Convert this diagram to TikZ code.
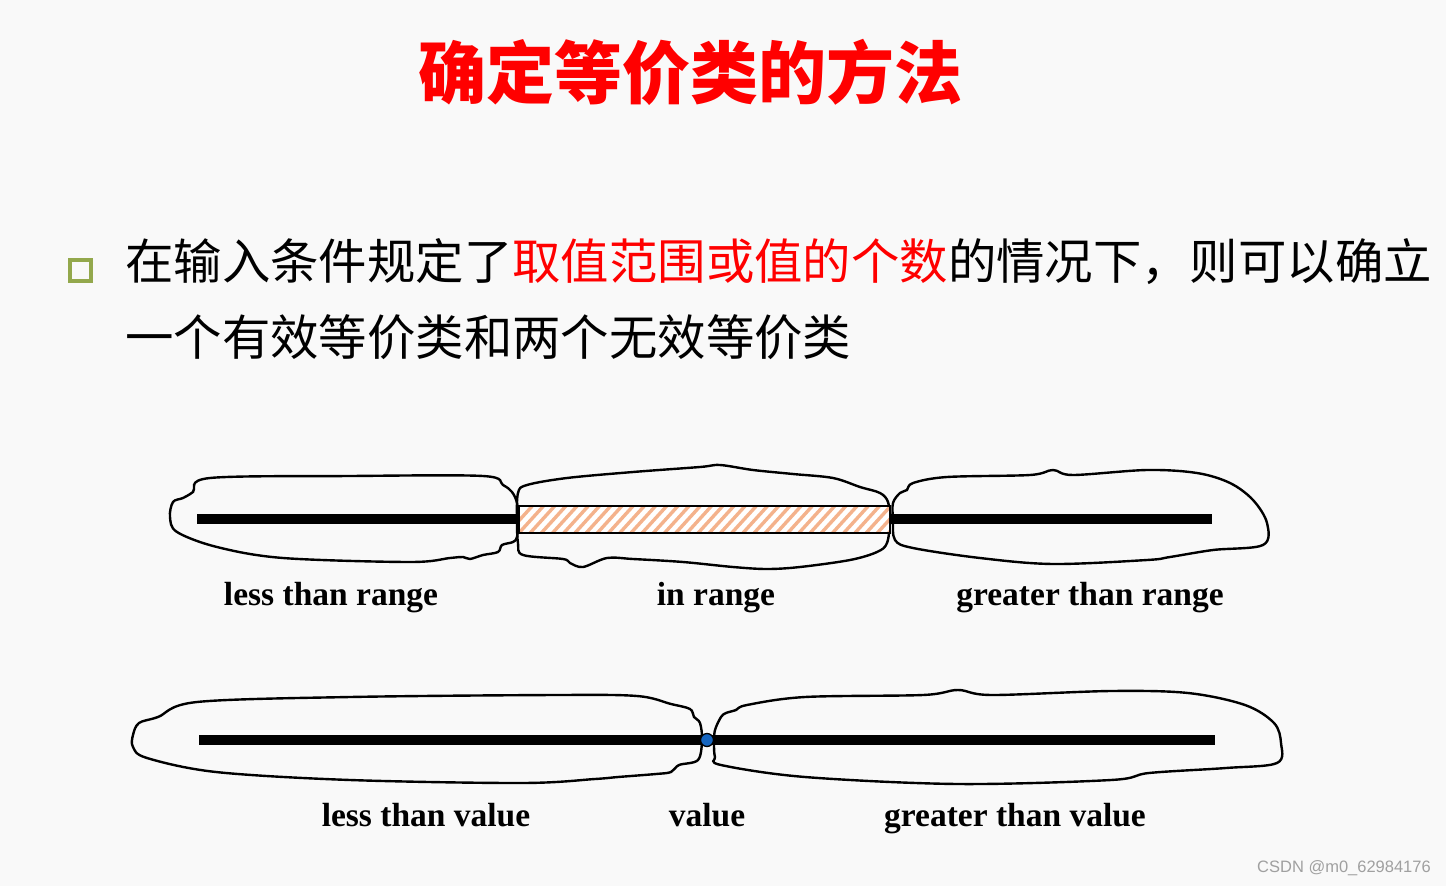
\documentclass[tikz,border=0pt]{standalone}
\usepackage{fontspec}
\setmainfont{Liberation Serif}
\newfontfamily\cjk{Noto Sans CJK SC}
\newfontfamily\wmfont{Liberation Sans}
\definecolor{bgc}{HTML}{F9F9F9}
\definecolor{tred}{HTML}{FF0000}
\definecolor{olivebox}{HTML}{93A84C}
\definecolor{hatchc}{HTML}{EE8040}
\definecolor{dotblue}{HTML}{1565C0}
\definecolor{wmgray}{HTML}{A0A0A0}
\tikzset{
  blob/.style={draw=black, line width=2.4pt, smooth cycle, tension=0.55},
  axis/.style={line width=9.5pt, black},
  lab/.style={font=\bfseries\fontsize{33.5}{36}\selectfont, anchor=base, inner sep=0pt},
  body/.style={font=\cjk\fontsize{48.4}{56}\selectfont, anchor=west, inner sep=0pt}
}
\begin{document}
\begin{tikzpicture}[x=1pt,y=-1pt]
\fill[bgc] (0,0) rectangle (1446,886);
\useasboundingbox (0,0) rectangle (1446,886);

% title
\node[font=\cjk\bfseries\fontsize{68}{72}\selectfont, text=tred, inner sep=0pt] (title) at (690,72) {确定等价类的方法};

% bullet
\node[draw=olivebox, line width=4.5pt, minimum size=21pt, inner sep=0pt] (bullet) at (80.5,270.5) {};

% body
\node[body] (line1) at (125,262) {在输入条件规定了\textcolor{tred}{取值范围或值的个数}的情况下，则可以确立};
\node[body] (line2) at (125,337) {一个有效等价类和两个无效等价类};

% ===== row 1 =====
\draw[blob] plot coordinates {(210,478) (350,476) (483,476) (503,485) (512,492) (517,503) (518,520) (517,537) (513,542) (502,545) (498,552) (483,555) (470,559) (463,557) (450,558) (410,562) (283,558) (217,547) (177,532) (170,517) (173,502) (183,498) (193,492)};
\draw[blob] plot coordinates {(518,493) (527,485) (567,478) (633,472) (700,467) (720,465) (753,470) (793,474) (833,478) (860,487) (880,493) (888,502) (890,520) (887,543) (877,552) (850,560) (800,567) (767,569) (733,567) (683,562) (633,559) (607,558) (583,567) (570,563) (563,559) (523,555) (518,543) (517,520)};
\draw[blob] plot coordinates {(893,503) (900,493) (907,490) (913,483) (947,477) (1030,475) (1053,470) (1073,475) (1147,470) (1197,473) (1230,483) (1253,500) (1267,523) (1263,545) (1213,550) (1170,557) (1147,560) (1053,564) (980,558) (913,548) (895,540) (893,520)};

\coordinate (r1a) at (197,519);
\coordinate (r1b) at (519,519);
\coordinate (r1c) at (890,519);
\coordinate (r1d) at (1212,519);
\draw[axis] (r1a) -- (r1b);
\draw[axis] (r1c) -- (r1d);

% hatched range
\fill[white] (519,506) rectangle (890,533);
\begin{scope}
\clip (519,506) rectangle (890,533);
\foreach \i in {0,...,34} {
  \draw[hatchc, line width=3.4pt, opacity=0.6] (505+\i*11.2,536) -- ++(30,-33);
}
\end{scope}
\draw[black, line width=2.4pt] (519,506) rectangle (890,533);

\node[lab] (l1) at (331,605) {less than range};
\node[lab] (l2) at (716,605) {in range};
\node[lab] (l3) at (1090,605) {greater than range};

% ===== row 2 =====
\draw[blob] plot coordinates {(139,723) (158,717) (197,702) (350,697) (556,695) (637,696) (671,704) (690,709) (694,717) (700,723) (702,740) (698,760) (679,765) (671,772) (656,774) (618,777) (595,779) (522,783) (350,780) (216,772) (147,758) (133,747) (133,735)};
\draw[blob] plot coordinates {(715,730) (721,717) (726,713) (736,710) (747,705) (805,697) (923,695) (958,690) (992,695) (1111,691) (1188,693) (1245,705) (1274,723) (1281,743) (1277,763) (1226,768) (1149,773) (1111,780) (958,784) (805,777) (721,765) (715,757) (714,743)};

\coordinate (r2a) at (199,740);
\coordinate (r2b) at (1215,740);
\draw[axis] (r2a) -- (r2b);
\node[circle, fill=dotblue, draw=black, line width=1.3pt, minimum size=13pt, inner sep=0pt] (dot) at (707,740) {};

\node[lab] (m1) at (426,826) {less than value};
\node[lab] (m2) at (707,826) {value};
\node[lab] (m3) at (1015,826) {greater than value};

% watermark
\node[font=\wmfont\fontsize{16.5}{18}\selectfont, text=wmgray, anchor=east, inner sep=0pt] (wm) at (1431,868) {CSDN @m0\_62984176};
\end{tikzpicture}
\end{document}
